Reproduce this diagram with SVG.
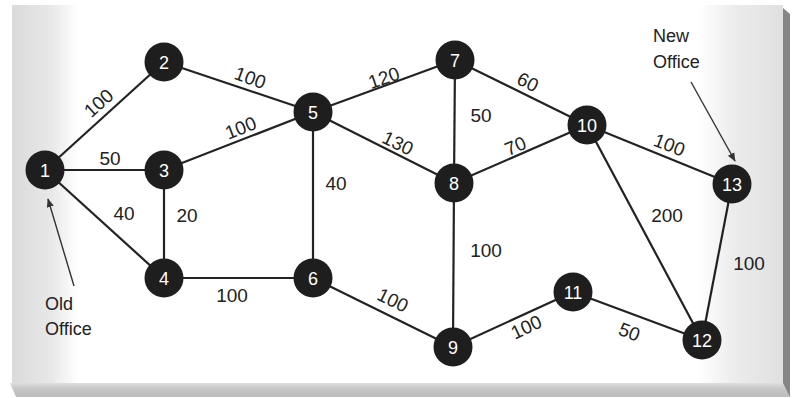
<svg xmlns="http://www.w3.org/2000/svg" width="796" height="398" viewBox="0 0 796 398">
  <defs>
    <linearGradient id="gl" x1="0" y1="0" x2="1" y2="0">
      <stop offset="0" stop-color="#dadada"/>
      <stop offset="0.6" stop-color="#e8e8e8"/>
      <stop offset="1" stop-color="#ffffff"/>
    </linearGradient>
    <linearGradient id="gr" x1="0" y1="0" x2="1" y2="0">
      <stop offset="0" stop-color="#ffffff"/>
      <stop offset="0.4" stop-color="#ececec"/>
      <stop offset="1" stop-color="#e0e0e0"/>
    </linearGradient>
    <linearGradient id="gb" x1="0" y1="0" x2="0" y2="1">
      <stop offset="0" stop-color="#dedede"/>
      <stop offset="0.35" stop-color="#c8c8c8"/>
      <stop offset="1" stop-color="#bcbcbc"/>
    </linearGradient>
    <marker id="ah" viewBox="0 0 10 10" refX="9" refY="5" markerWidth="9" markerHeight="9" orient="auto" markerUnits="userSpaceOnUse">
      <path d="M0,1 L10,5 L0,9 Z" fill="#333"/>
    </marker>
    <style>
      .edge { stroke: #222; stroke-width: 2.2; fill: none; }
      .node circle { fill: #1e1e1e; }
      .node text { fill: #fff; font-family: "Liberation Sans", Arial, sans-serif; font-size: 18px; text-anchor: middle; }
      .lbl { fill: #222; font-family: "Liberation Sans", Arial, sans-serif; font-size: 19px; text-anchor: middle; }
      .note { fill: #222; font-family: "Liberation Sans", Arial, sans-serif; font-size: 18px; }
      .arrow { stroke: #333; stroke-width: 1.4; fill: none; }
    </style>
  </defs>

  <!-- background panel -->
  <rect x="0" y="0" width="796" height="398" fill="#ffffff"/>
  <rect x="12" y="5" width="771" height="378" fill="#ffffff"/>
  <rect x="12" y="5" width="66" height="378" fill="url(#gl)"/>
  <rect x="700" y="5" width="83" height="378" fill="url(#gr)"/>
  <polygon points="783,8 790,14 790,397 783,390" fill="#858585"/>
  <polygon points="10,383 783,383 790,397 16,397" fill="url(#gb)"/>

  <!-- connectors -->
  <g id="edges">
    <line class="edge" x1="45" y1="170" x2="164" y2="62"/>
    <line class="edge" x1="45" y1="170" x2="164" y2="170"/>
    <line class="edge" x1="45" y1="170" x2="164" y2="278"/>
    <line class="edge" x1="164" y1="62" x2="313" y2="112"/>
    <line class="edge" x1="164" y1="170" x2="313" y2="112"/>
    <line class="edge" x1="164" y1="170" x2="164" y2="278"/>
    <line class="edge" x1="164" y1="278" x2="313" y2="278"/>
    <line class="edge" x1="313" y1="112" x2="313" y2="278"/>
    <line class="edge" x1="313" y1="112" x2="455" y2="60"/>
    <line class="edge" x1="313" y1="112" x2="454" y2="183"/>
    <line class="edge" x1="313" y1="278" x2="453" y2="347"/>
    <line class="edge" x1="455" y1="60" x2="454" y2="183"/>
    <line class="edge" x1="455" y1="60" x2="587" y2="125"/>
    <line class="edge" x1="454" y1="183" x2="587" y2="125"/>
    <line class="edge" x1="454" y1="183" x2="453" y2="347"/>
    <line class="edge" x1="453" y1="347" x2="573" y2="292"/>
    <line class="edge" x1="573" y1="292" x2="702" y2="340"/>
    <line class="edge" x1="587" y1="125" x2="732" y2="184"/>
    <line class="edge" x1="587" y1="125" x2="702" y2="340"/>
    <line class="edge" x1="732" y1="184" x2="702" y2="340"/>
    <line class="arrow" x1="74" y1="286" x2="48" y2="199" marker-end="url(#ah)"/>
    <line class="arrow" x1="691" y1="82" x2="735" y2="161" marker-end="url(#ah)"/>
  </g>

  <!-- edge labels -->
  <g id="labels">
    <text class="lbl" transform="translate(103,108) rotate(-42)">100</text>
    <text class="lbl" transform="translate(248,84) rotate(20)">100</text>
    <text class="lbl" x="110" y="165">50</text>
    <text class="lbl" transform="translate(243,134) rotate(-21)">100</text>
    <text class="lbl" x="124" y="220">40</text>
    <text class="lbl" x="187" y="222">20</text>
    <text class="lbl" x="232" y="302">100</text>
    <text class="lbl" x="336" y="190">40</text>
    <text class="lbl" transform="translate(386,84) rotate(-19)">120</text>
    <text class="lbl" transform="translate(395,149) rotate(26)">130</text>
    <text class="lbl" transform="translate(390,306) rotate(26)">100</text>
    <text class="lbl" x="481" y="122">50</text>
    <text class="lbl" transform="translate(525,88) rotate(26)">60</text>
    <text class="lbl" transform="translate(518,152) rotate(-23)">70</text>
    <text class="lbl" transform="translate(667,151) rotate(21)">100</text>
    <text class="lbl" x="486" y="257">100</text>
    <text class="lbl" transform="translate(529,333) rotate(-25)">100</text>
    <text class="lbl" transform="translate(627,338) rotate(21)">50</text>
    <text class="lbl" x="667" y="222">200</text>
    <text class="lbl" x="749" y="270">100</text>
  </g>

  <!-- annotations -->
  <g id="old-office">
    <text class="note" x="45" y="310">Old</text>
    <text class="note" x="45" y="335">Office</text>
  </g>
  <g id="new-office">
    <text class="note" x="653" y="42">New</text>
    <text class="note" x="653" y="68">Office</text>
  </g>

  <!-- nodes -->
  <g id="n1" class="node"><circle cx="45" cy="170" r="19.5"/><text x="45" y="176.5">1</text></g>
  <g id="n2" class="node"><circle cx="164" cy="62" r="19.5"/><text x="164" y="68.5">2</text></g>
  <g id="n3" class="node"><circle cx="164" cy="170" r="19.5"/><text x="164" y="176.5">3</text></g>
  <g id="n4" class="node"><circle cx="164" cy="278" r="19.5"/><text x="164" y="284.5">4</text></g>
  <g id="n5" class="node"><circle cx="313" cy="112" r="19.5"/><text x="313" y="118.5">5</text></g>
  <g id="n6" class="node"><circle cx="313" cy="278" r="19.5"/><text x="313" y="284.5">6</text></g>
  <g id="n7" class="node"><circle cx="455" cy="60" r="19.5"/><text x="455" y="66.5">7</text></g>
  <g id="n8" class="node"><circle cx="454" cy="183" r="19.5"/><text x="454" y="189.5">8</text></g>
  <g id="n9" class="node"><circle cx="453" cy="347" r="19.5"/><text x="453" y="353.5">9</text></g>
  <g id="n10" class="node"><circle cx="587" cy="125" r="19.5"/><text x="587" y="131.5">10</text></g>
  <g id="n11" class="node"><circle cx="573" cy="292" r="19.5"/><text x="573" y="298.5">11</text></g>
  <g id="n12" class="node"><circle cx="702" cy="340" r="19.5"/><text x="702" y="346.5">12</text></g>
  <g id="n13" class="node"><circle cx="732" cy="184" r="19.5"/><text x="732" y="190.5">13</text></g>
</svg>
